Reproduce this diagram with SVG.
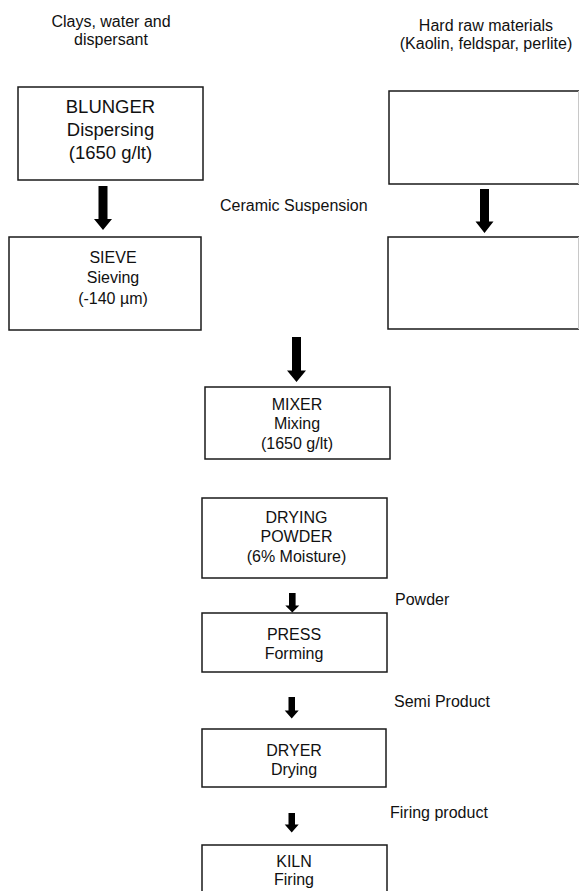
<svg xmlns="http://www.w3.org/2000/svg" width="579" height="891" viewBox="0 0 579 891">
<style>
.box{fill:#fff;stroke:#1a1a1a;stroke-width:1.5}
.open{fill:#fff;stroke:#1a1a1a;stroke-width:1.5}
.edge{stroke:#c8c8c8;stroke-width:1}
.t{font-family:"Liberation Sans",Arial,Helvetica,sans-serif;font-size:16px;fill:#111}
.c{text-anchor:middle}
.big{font-size:18.5px}
.arr{fill:#000}
</style>
<rect width="579" height="891" fill="#fff"/>
<g id="label-clays">
<text class="t c" x="111" y="26.5">Clays, water and</text>
<text class="t c" x="111" y="44.5">dispersant</text>
</g>
<g id="label-hard">
<text class="t c" x="486" y="31">Hard raw materials</text>
<text class="t c" x="486" y="49">(Kaolin, feldspar, perlite)</text>
</g>
<g id="node-blunger">
<rect class="box" x="18" y="87" width="185" height="93"/>
<text class="t c big" x="110.5" y="113">BLUNGER</text>
<text class="t c big" x="110.5" y="136">Dispersing</text>
<text class="t c big" x="110.5" y="158.5">(1650 g/lt)</text>
</g>
<g id="node-hard1">
<path class="open" d="M579,91 H389 V184 H579"/>
<line class="edge" x1="578.5" y1="91" x2="578.5" y2="184"/>
</g>
<g id="node-sieve">
<rect class="box" x="9" y="237" width="192" height="93"/>
<text class="t c" x="113" y="263">SIEVE</text>
<text class="t c" x="113" y="283">Sieving</text>
<text class="t c" x="113" y="303.5">(-140 µm)</text>
</g>
<g id="node-hard2">
<path class="open" d="M579,237 H388 V329 H579"/>
<line class="edge" x1="578.5" y1="237" x2="578.5" y2="329"/>
</g>
<g id="label-suspension">
<text class="t" x="220" y="211">Ceramic Suspension</text>
</g>
<g id="node-mixer">
<rect class="box" x="205" y="387" width="185" height="72"/>
<text class="t c" x="297" y="409.5">MIXER</text>
<text class="t c" x="297" y="429">Mixing</text>
<text class="t c" x="297" y="449">(1650 g/lt)</text>
</g>
<g id="node-drying">
<rect class="box" x="202" y="498" width="185" height="80"/>
<text class="t c" x="296.5" y="522.5">DRYING</text>
<text class="t c" x="296.5" y="542">POWDER</text>
<text class="t c" x="296.5" y="561.5">(6% Moisture)</text>
</g>
<g id="label-powder">
<text class="t" x="395" y="605">Powder</text>
</g>
<g id="node-press">
<rect class="box" x="202" y="613" width="185" height="59"/>
<text class="t c" x="294" y="640">PRESS</text>
<text class="t c" x="294" y="659">Forming</text>
</g>
<g id="label-semi">
<text class="t" x="394" y="707">Semi Product</text>
</g>
<g id="node-dryer">
<rect class="box" x="202" y="729" width="184" height="58"/>
<text class="t c" x="294" y="756">DRYER</text>
<text class="t c" x="294" y="774.5">Drying</text>
</g>
<g id="label-firing">
<text class="t" x="390" y="818">Firing product</text>
</g>
<g id="node-kiln">
<rect class="box" x="202" y="845" width="185" height="60"/>
<text class="t c" x="294" y="866.5">KILN</text>
<text class="t c" x="294" y="885">Firing</text>
</g>
<g id="connectors">
<polygon class="arr" points="98.5,186 107.5,186 107.5,219 112,219 103,230 94,219 98.5,219"/>
<polygon class="arr" points="480,189 489,189 489,221.5 493.5,221.5 484.5,233 475.5,221.5 480,221.5"/>
<polygon class="arr" points="292,337 301,337 301,370.5 306,370.5 296.5,382 287,370.5 292,370.5"/>
<polygon class="arr" points="289,593 295.6,593 295.6,605.5 299.3,605.5 292.3,612.5 285.3,605.5 289,605.5"/>
<polygon class="arr" points="288.5,697 295,697 295,710.5 298.7,710.5 291.7,718.5 284.7,710.5 288.5,710.5"/>
<polygon class="arr" points="288.5,813 295,813 295,824.5 298.7,824.5 291.7,832.5 284.7,824.5 288.5,824.5"/>
</g>
</svg>
